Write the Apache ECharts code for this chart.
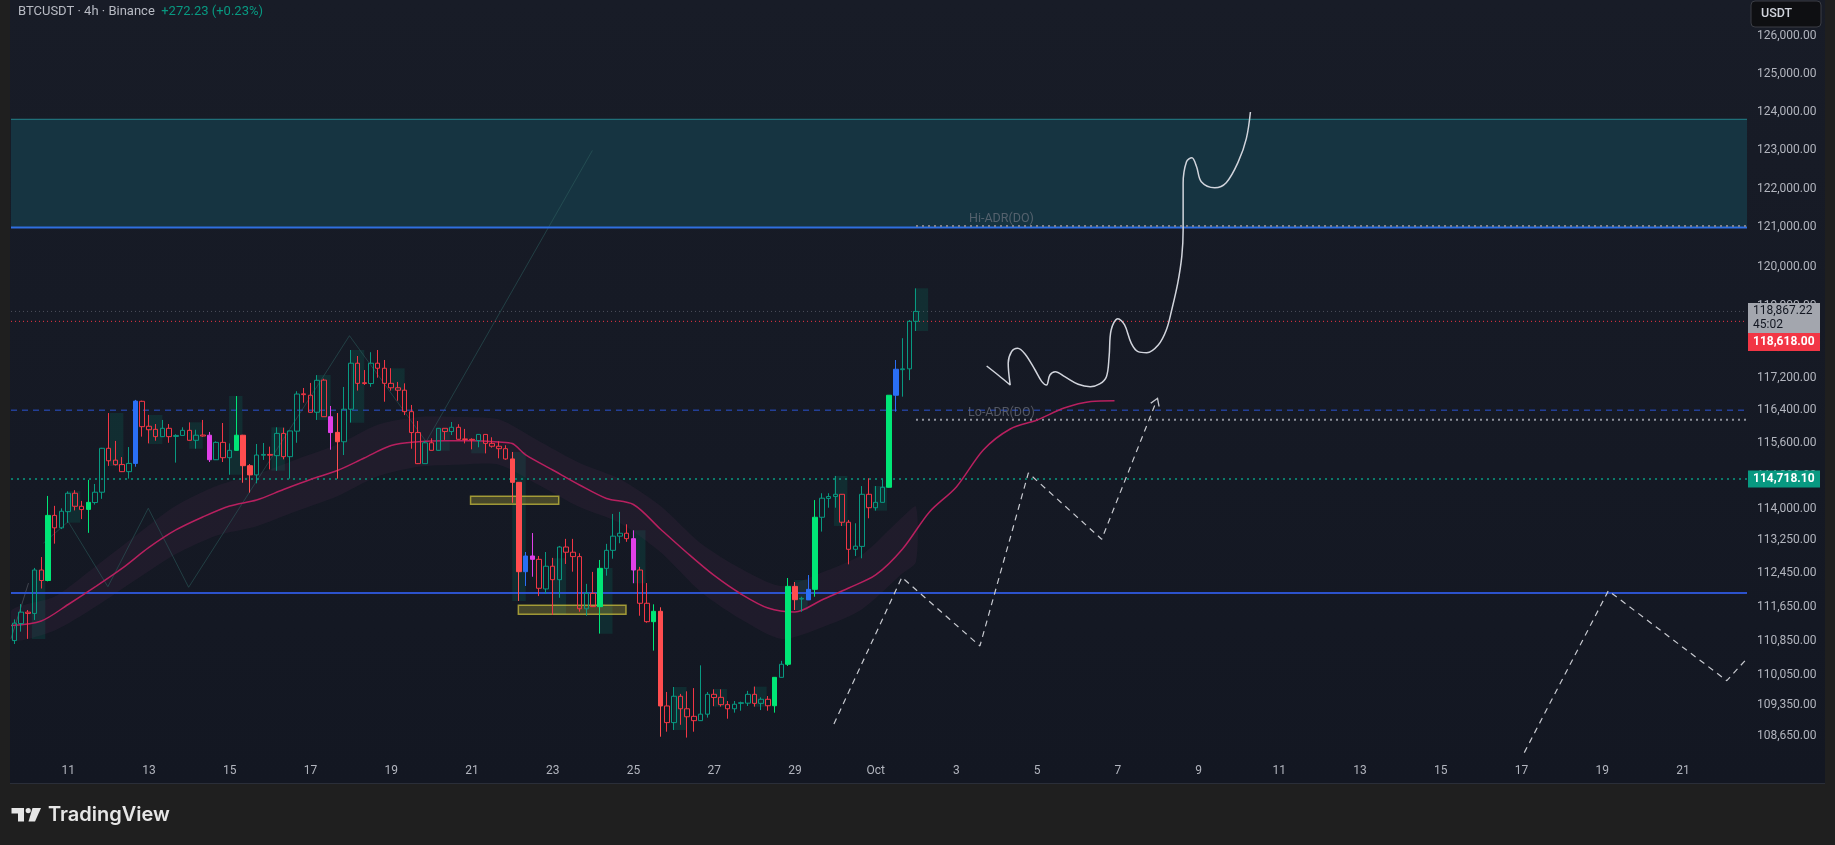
<!DOCTYPE html>
<html><head><meta charset="utf-8">
<script src="https://cdn.jsdelivr.net/npm/echarts@6/dist/echarts.min.js"></script>
<style>
html,body{margin:0;padding:0;background:#1f1f1f;}
#wrap{position:relative;width:1835px;height:845px;background:#1f1f1f;overflow:hidden}
#pane{position:absolute;left:10px;top:0;width:1815px;height:784px;background:linear-gradient(#181c27,#131722);border-bottom:1px solid #2a2e39;box-sizing:border-box}
#chart{position:absolute;left:0;top:0;width:1835px;height:845px;}
</style></head><body>
<div id="wrap"><div id="pane"></div><div id="chart"></div></div>
<script>
// ---------- data ----------
const startTime = Date.UTC(2025, 8, 9, 16); // first 4h candle: Sep 9 16:00
const slotCount = 258;                       // 4h slots shown on the time axis
const xTickLabels = ['11','13','15','17','19','21','23','25','27','29','Oct','3','5','7','9','11','13','15','17','19','21'];
const yTickValues = [126000,125000,124000,123000,122000,121000,120000,119000,118000,117200,116400,115600,114800,114000,113250,112450,111650,110850,110050,109350,108650];
const yMaxPrice = 126975, yMinPrice = 108182;

const opens = [110860,111260,111530,111500,112530,112280,113840,113540,113930,114375,114060,113985,114150,114400,115470,115180,115075,114900,115100,116625,
116010,115935,115755,115960,115760,115785,115910,115665,115795,115790,115190,115615,115240,115420,115790,115045,114820,115300,115320,115290,
115835,115265,115890,116810,116775,116355,117150,116245,115860,115630,116430,117570,117085,117065,117570,117445,117070,116960,116900,116370,
115855,115095,115605,115420,115960,115880,115985,115700,115690,115660,115810,115590,115520,115460,115210,114640,112490,112865,112785,112080,
112620,112300,113080,112955,112850,111610,111975,111660,112570,113000,113340,113410,113280,112530,111740,111305,111550,109335,108950,109560,
109270,109095,108995,109145,109605,109535,109365,109270,109395,109400,109605,109395,109490,109340,110000,110305,112140,111840,111820,112070,
113795,114250,114295,114350,113675,113025,113095,114350,114025,114155,114520,116775,117410,117430,118618];
const highs = [111360,111720,111580,112580,112840,114310,114070,114010,114420,114450,114190,114700,114600,115480,116335,115650,115255,115500,116660,116640,
116290,116065,116165,116065,115815,115985,116105,115925,116165,115870,115640,116090,115590,116755,115800,115085,115575,115600,115510,115985,
115975,115900,116875,116955,117080,117275,117185,116510,116335,116980,117900,117750,117400,117845,117900,117650,117445,117105,117070,116535,
116140,115650,115715,115965,115965,116115,116060,115945,115715,115815,115815,115740,115640,115545,115380,114645,112960,113415,112865,112960,
112820,113105,113275,113275,112930,112200,112485,112770,113155,113875,113925,113625,113480,112605,112220,111715,111645,109660,109775,109615,
109675,109750,110280,109660,109720,109720,109450,109450,109435,109685,109785,109535,109565,110005,110385,112340,112245,111895,112410,114210,
114375,114375,114795,114355,113730,113650,114550,114740,114550,114715,116780,117650,118195,118650,119450];
const lows = [110780,111070,110900,111345,112090,112260,113160,113510,113665,113960,113750,113420,114100,114240,115040,115050,114890,114730,115020,115755,
115590,115655,115745,115605,115120,115780,115660,115460,115750,115135,115185,115135,114825,115415,114630,114390,114615,115185,114955,114920,
115200,114730,115605,116590,116350,116165,116240,115435,114730,115305,116100,116890,117030,116985,117210,116615,116890,116640,116285,115460,
115085,115090,115415,115415,115675,115795,115685,115590,115445,115495,115345,115485,115225,115190,114145,111795,112150,112370,111910,111965,
111465,111870,112675,112490,111540,111445,111655,111025,112395,112800,113170,113205,112215,111445,111280,110625,108625,108740,108780,108900,
108605,108740,108990,109065,109330,109320,109040,109180,109225,109335,109320,109240,109225,109180,109995,110265,111580,111540,111815,111895,
113450,114025,114025,113585,112665,112865,112810,113770,113955,114150,114515,116370,116740,117150,118375];
const closes = [111270,111530,111500,112530,112280,113840,113540,113940,114375,114060,113980,114155,114400,115470,115165,115070,114900,115100,116630,116000,
115925,115755,115960,115755,115785,115910,115665,115790,115770,115190,115615,115240,115420,115790,115045,114820,115305,115320,115300,115835,
115265,115895,116805,116790,116355,117145,116245,115855,115630,116430,117570,117070,117065,117570,117445,117070,116960,116900,116370,115855,
115095,115605,115420,115960,115880,115985,115690,115685,115675,115810,115590,115520,115460,115210,114640,112490,112865,112785,112095,112620,
112300,113080,112955,112850,111610,111975,111660,112570,113000,113340,113410,113280,112530,111740,111305,111550,109335,108950,109560,109270,
109085,108995,109145,109605,109530,109365,109270,109375,109410,109605,109395,109490,109340,110000,110305,112140,111825,111858,112070,113795,
114255,114295,114350,113675,113025,113100,114350,114025,114155,114520,116775,117420,117430,118618,118867.22];

// candles painted by the volume indicator
const filledGreen = [5,11,33,87,95,113,115,119,130];
const filledRed = [34,35,48,74,75,96,116];
const filledBlue = [18,76,118,131];
const filledMagenta = [29,47,77,92];

// offset moving average (slot index, price)
const maX = [-0.5,4,8,12,16,20,24,28,32,36,40,44,48,52,56,60,64,68,72,74,76,80,84,88,92,96,100,104,108,112,116,120,124,128,132,136,140,144,148,152,156,160,163.5];
const maY = [111215,111322,111711,112127,112567,113069,113489,113802,114067,114212,114467,114709,114928,115233,115538,115629,115656,115656,115624,115587,115306,114940,114576,114249,114103,113513,112937,112400,111960,111628,111534,111818,112103,112412,113033,113923,114528,115428,115943,116164,116460,116621,116640];

// ribbon around the average
const bandX = [-0.5,6,12,18,24,30,36,42,48,54,60,66,72,78,84,90,96,102,108,114,120,126,132,134];
const bandUpper = [111565,111900,112610,113350,114070,114550,114840,115205,115560,116050,116240,116240,116180,115640,115110,114720,114070,113170,112560,112150,112470,112900,113800,114050];
const bandLower = [110865,111100,111650,112290,112910,113350,113580,113945,114300,114785,115020,115070,115070,114570,114040,113655,112960,112015,111360,110900,111170,111600,112450,112730];

// daily highlight boxes
const boxStart = [2.6,7.8,14.2,20.0,26.0,31.9,38.2,45.0,50.0,56.0,62.7,67.9,74.0,80.0,86.9,91.8,97.9,103.9,109.8,115.9,121.8,127.7,133.8];
const boxHigh = [112530,114424,116336,116287,116107,116757,115985,117277,117900,117443,115960,115656,115379,112810,112579,113482,109776,109729,109783,112293,114794,114552,119451];
const boxLow = [110900,113665,115037,115575,115460,114826,114923,116164,116098,116888,115411,115347,111794,111480,111023,112214,108780,109319,109319,111581,113586,113954,118376];

// yellow zones
const yellowFrom = [67.8, 74.9];
const yellowTo = [80.9, 90.9];
const yellowHigh = [114305, 111693];
const yellowLow = [114108, 111480];

// price levels
const zoneTop = 123806, hiADR = 121000, hiADRdot = 121038;
const lastPrice = 118867.22, countdown = '45:02', redLevel = 118618.00;
const loADR = 116403, loADRdot = 116172, greenLevel = 114718.10, supportLevel = 111985;
const adrFrom = 134.0;
const adrLabels = ['Hi-ADR(DO)', 'Lo-ADR(DO)'];
const adrLabelX = [146.7, 146.7];
const adrLabelPrice = [121210, 116344];

// drawings
const zigX = [4.3,8.0,13.9,19.9,25.9,34.2,49.8,61.2,85.9];
const zigY = [113170,113690,112133,114012,112119,114212,118258,115632,122990];
const arrowX = [-0.5, 2.1];
const arrowY = [110905, 112220];
const curveX = [144.5,146.2,148.0,147.7,148.2,149.1,150.2,151.7,152.7,153.4,153.9,154.7,156.1,158.1,159.9,161.3,162.3,162.7,163.0,164.0,165.0,166.0,167.0,168.3,170.0,171.2,172.0,172.9,173.5,173.7,173.7,174.2,175.0,175.7,176.4,178.4,180.1,181.9,183.1,183.7];
const curveY = [117501,117277,117029,117568,117859,117943,117800,117401,117112,117029,117277,117360,117235,117047,116988,117054,117235,117734,118401,118685,118527,118067,117859,117834,118025,118401,118903,119580,120260,120936,122138,122699,122803,122569,122180,122025,122154,122699,123308,123997];
const path1X = [121.8,131.9,143.5,150.7,161.6,169.7];
const path1Y = [108919,112357,110734,114868,113266,116617];
const path2X = [224.4,236.9,254.5,257.5];
const path2Y = [108259,112038,109923,110440];

// ---------- build ----------
const L = Math.log;
const X_MIN = -0.5, X_MAX = slotCount - 0.5;
const FONT = 'Roboto, "Noto Sans", sans-serif';
const fmt = n => { const s = (Math.round(n*100)/100).toFixed(2); const [a,b] = s.split('.'); return a.replace(/\B(?=(\d{3})+(?!\d))/g, ',') + '.' + b; };

const categories = [];
for (let i = 0; i < slotCount; i++) {
  const d = new Date(startTime + i * 4 * 3600e3);
  categories.push(d.toISOString().slice(5, 13).replace('T', ' '));
}
const firstTick = 8, tickStep = 12;

const fillOf = i => filledGreen.includes(i) ? '#00e676' : filledRed.includes(i) ? '#ff4d4f' :
  filledBlue.includes(i) ? '#2a6ff5' : filledMagenta.includes(i) ? '#e040e8' : null;

const candleData = opens.map((o, i) => {
  const item = { value: [L(o), L(closes[i]), L(lows[i]), L(highs[i])] };
  const c = fillOf(i);
  if (c) item.itemStyle = { color: c, color0: c, borderColor: c, borderColor0: c };
  return item;
});

const pts = (xs, ys) => xs.map((x, i) => [x, L(ys[i])]);

function hline(price, x0, color, type, width, z) {
  return { type: 'line', xAxisIndex: 1, yAxisIndex: 0, data: [[x0, L(price)], [X_MAX, L(price)]],
    symbol: 'none', silent: true, z, lineStyle: { color, type, width, cap: 'butt' } };
}
function rectSeries(rows, fill, stroke, lw, z) {
  return { type: 'custom', xAxisIndex: 1, yAxisIndex: 0, z, silent: true, clip: true,
    data: rows, encode: { x: [0, 1], y: [2, 3] },
    renderItem: (params, api) => {
      const a = api.coord([api.value(0), api.value(2)]);
      const b = api.coord([api.value(1), api.value(3)]);
      return { type: 'rect', shape: { x: Math.min(a[0], b[0]), y: Math.min(a[1], b[1]),
        width: Math.abs(b[0] - a[0]), height: Math.abs(b[1] - a[1]) },
        style: { fill, stroke, lineWidth: lw } };
    } };
}
const BOX_SPAN = 2;

const bandSeries = { type: 'custom', xAxisIndex: 1, yAxisIndex: 0, z: 2, silent: true, clip: true,
  data: [[bandX[0], L(bandUpper[0])]], encode: { x: 0, y: 1 },
  renderItem: (params, api) => {
    const up = bandX.map((x, i) => api.coord([x, L(bandUpper[i])]));
    const lo = bandX.map((x, i) => api.coord([x, L(bandLower[i])])).reverse();
    return { type: 'polygon', shape: { points: up.concat(lo), smooth: 0.25 }, style: { fill: 'rgba(100,50,90,0.14)' } };
  } };

const series = [
  rectSeries([[X_MIN, X_MAX, L(zoneTop), L(hiADR)]], '#163441', null, 0, 1),
  rectSeries(boxStart.map((s, i) => [s, s + BOX_SPAN, L(boxHigh[i]), L(boxLow[i])]), 'rgba(0,150,120,0.17)', null, 0, 1),
  bandSeries,
  { type: 'line', xAxisIndex: 1, data: pts(zigX, zigY), symbol: 'none', silent: true, z: 2, lineStyle: { color: 'rgba(45,95,95,0.55)', width: 1 } },
  { type: 'line', xAxisIndex: 1, data: pts(arrowX, arrowY), symbol: 'none', silent: true, z: 2, lineStyle: { color: 'rgba(120,123,134,0.45)', width: 1 } },
  hline(zoneTop, X_MIN, '#23838c', 'solid', 1, 3),
  hline(hiADR, X_MIN, '#2f6fe0', 'solid', 2, 3),
  hline(hiADRdot, adrFrom, '#7d808b', [2, 4], 2, 3),
  hline(lastPrice, X_MIN, 'rgba(120,123,134,0.55)', [1, 3], 1, 3),
  hline(redLevel, X_MIN, '#f23645', [1, 3], 1, 3),
  hline(loADR, X_MIN, 'rgba(41,80,200,0.7)', [6, 5], 1.5, 3),
  hline(loADRdot, adrFrom, '#8f929c', [2, 4], 2, 3),
  hline(greenLevel, X_MIN, 'rgba(8,153,129,0.75)', [2, 4], 2, 3),
  hline(supportLevel, X_MIN, '#2c52cc', 'solid', 2, 3),
  rectSeries(yellowFrom.map((s, i) => [s, yellowTo[i], L(yellowHigh[i]), L(yellowLow[i])]), 'rgba(200,190,60,0.28)', 'rgba(200,190,60,0.75)', 1.5, 3),
  { type: 'line', xAxisIndex: 1, data: pts(maX, maY), smooth: 0.3, symbol: 'none', silent: true, z: 4, lineStyle: { color: '#b8205f', width: 1.5 } },
  { type: 'candlestick', xAxisIndex: 0, yAxisIndex: 0, data: candleData, barWidth: 5, z: 5, silent: true,
    itemStyle: { color: 'transparent', color0: 'transparent', borderColor: '#089981', borderColor0: '#f23645', borderWidth: 1 } },
  { type: 'line', xAxisIndex: 1, data: pts(curveX, curveY), smooth: 0.35, symbol: 'none', silent: true, z: 6, lineStyle: { color: '#d1d4dc', width: 1.5 } },
  { type: 'line', xAxisIndex: 1, showSymbol: true, symbol: 'none', silent: true, z: 6,
    data: pts(path1X, path1Y).map((p, i, arr) => i === arr.length - 1 ?
      { value: p, symbol: 'path://M0,10 L5,0 L10,10', symbolSize: [9, 7], symbolRotate: -22,
        itemStyle: { color: 'rgba(0,0,0,0)', borderColor: '#c8cad0', borderWidth: 1.2 } } : p),
    lineStyle: { color: '#c8cad0', width: 1.2, type: [6, 5] } },
  { type: 'line', xAxisIndex: 1, data: pts(path2X, path2Y), symbol: 'none', silent: true, z: 6, lineStyle: { color: '#c8cad0', width: 1.2, type: [6, 5] } },
  { type: 'scatter', xAxisIndex: 1, silent: true, z: 6, symbolSize: 1, itemStyle: { color: 'rgba(0,0,0,0)' },
    data: adrLabels.map((t, i) => ({ value: [adrLabelX[i], L(adrLabelPrice[i])], label: { formatter: t } })),
    label: { show: true, position: 'inside', color: 'rgba(120,123,134,0.8)', fontSize: 12.5, fontFamily: FONT } }
];

const chart = echarts.init(document.getElementById('chart'), null, { renderer: 'canvas' });
const option = {
  animation: false,
  backgroundColor: 'transparent',
  grid: { left: 11, right: 88, top: 0, bottom: 89, containLabel: false, outerBoundsMode: 'none' },
  xAxis: [
    { type: 'category', data: categories, boundaryGap: true,
      axisLine: { show: false }, axisTick: { show: false }, splitLine: { show: false },
      axisLabel: { color: '#b2b5be', fontSize: 12, fontFamily: FONT, margin: 9,
        interval: (idx) => idx >= firstTick && (idx - firstTick) % tickStep === 0,
        formatter: (v, idx) => xTickLabels[(idx - firstTick) / tickStep] || '' } },
    { type: 'value', min: X_MIN, max: X_MAX, show: false }
  ],
  yAxis: [
    { type: 'value', position: 'right', min: L(yMinPrice), max: L(yMaxPrice),
      axisLine: { show: false }, axisTick: { show: false }, splitLine: { show: false },
      axisLabel: { color: '#b2b5be', fontSize: 12, fontFamily: FONT, margin: 10,
        customValues: yTickValues.map(L), formatter: v => fmt(Math.exp(v)) } }
  ],
  series
};
chart.setOption(option);

const yOf = p => chart.convertToPixel({ yAxisIndex: 0 }, L(p));
const gTop = yOf(lastPrice) - 8.5;
const gY = yOf(greenLevel);
chart.setOption({ graphic: [
  { type: 'text', x: 18, y: 12, z: 100, style: { text: '{a|BTCUSDT · 4h · Binance}{b|  +272.23 (+0.23%)}', verticalAlign: 'middle',
      rich: { a: { fill: '#b8bbc4', font: '13px ' + FONT }, b: { fill: '#089981', font: '13px ' + FONT } } } },
  { type: 'rect', z: 100, shape: { x: 1751, y: 1, width: 70, height: 26, r: 4 }, style: { fill: '#0e0f12', stroke: '#3a3d45', lineWidth: 1 } },
  { type: 'text', z: 101, x: 1761, y: 14, style: { text: 'USDT', fill: '#d1d4dc', font: '500 12.5px ' + FONT, verticalAlign: 'middle' } },
  { type: 'rect', z: 100, shape: { x: 1748, y: gTop, width: 72, height: 30 }, style: { fill: '#a3a6ae' } },
  { type: 'text', z: 101, x: 1753, y: gTop + 8, style: { text: fmt(lastPrice), fill: '#131722', font: '12px ' + FONT, verticalAlign: 'middle' } },
  { type: 'text', z: 101, x: 1753, y: gTop + 22, style: { text: countdown, fill: '#131722', font: '12px ' + FONT, verticalAlign: 'middle' } },
  { type: 'rect', z: 100, shape: { x: 1748, y: gTop + 30, width: 72, height: 18 }, style: { fill: '#f23645' } },
  { type: 'text', z: 101, x: 1753, y: gTop + 39, style: { text: fmt(redLevel), fill: '#ffffff', font: 'bold 12px ' + FONT, verticalAlign: 'middle' } },
  { type: 'rect', z: 100, shape: { x: 1748, y: gY - 8.5, width: 72, height: 17 }, style: { fill: '#089981' } },
  { type: 'text', z: 101, x: 1753, y: gY, style: { text: fmt(greenLevel), fill: '#ffffff', font: 'bold 12px ' + FONT, verticalAlign: 'middle' } },
  { type: 'polygon', z: 100, shape: { points: [[11.5,808],[24,808],[24,821.5],[18,821.5],[18,813.5],[11.5,813.5]] }, style: { fill: '#e6e6e6' } },
  { type: 'circle', z: 100, shape: { cx: 28.2, cy: 810.6, r: 2.6 }, style: { fill: '#e6e6e6' } },
  { type: 'polygon', z: 100, shape: { points: [[32.5,808],[41,808],[35,821.5],[28.5,821.5]] }, style: { fill: '#e6e6e6' } },
  { type: 'text', z: 100, x: 48, y: 815, style: { text: 'TradingView', fill: '#e6e6e6', font: '600 20px Inter, ' + FONT, verticalAlign: 'middle' } }
] });
</script>
</body></html>
